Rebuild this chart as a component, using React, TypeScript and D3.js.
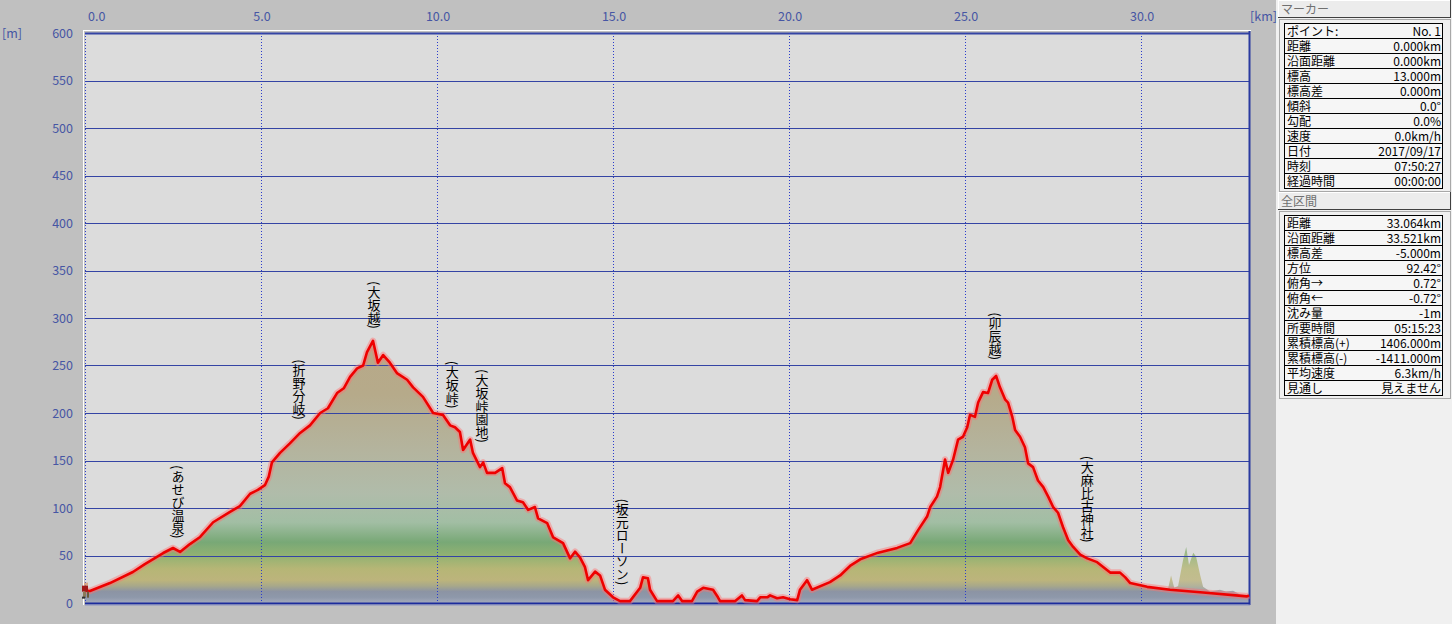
import { useMemo } from "react";
import * as d3 from "d3";

const W = 1452;
const H = 624;
const PLOT = { left: 85, right: 1249, top: 33, bottom: 603 };
const FONT = "'Noto Sans CJK JP', 'Noto Sans', sans-serif";
const AXIS_BLUE = "#4656a4";
const GRID_BLUE = "#3444a4";
const VGRID_BLUE = "#2a3ccc";

// track profile: distance [km], elevation [m]
const TRACK_KM = [
  0, 0.14, 0.71, 1.36, 1.7, 2.22, 2.5, 2.7, 2.98, 3.27, 3.64, 4.12, 4.4, 4.69, 4.91, 5.11, 5.22,
  5.31, 5.54, 5.82, 6.11, 6.39, 6.68, 6.9, 7.16, 7.35, 7.53, 7.73, 7.9, 8.01, 8.18, 8.32, 8.47,
  8.66, 8.86, 9.15, 9.32, 9.6, 9.89, 10.17, 10.37, 10.51, 10.65, 10.74, 10.94, 11.02, 11.22,
  11.31, 11.42, 11.65, 11.85, 11.93, 12.07, 12.27, 12.44, 12.59, 12.78, 12.87, 13.13, 13.3,
  13.58, 13.78, 13.92, 14.06, 14.2, 14.29, 14.49, 14.63, 14.77, 15.0, 15.2, 15.48, 15.77, 15.85,
  15.99, 16.05, 16.25, 16.7, 16.85, 16.96, 17.24, 17.39, 17.56, 17.84, 17.98, 18.04, 18.47,
  18.66, 18.75, 19.09, 19.18, 19.38, 19.46, 19.66, 19.83, 20.03, 20.23, 20.31, 20.51, 20.65,
  21.16, 21.45, 21.73, 22.02, 22.53, 23.07, 23.44, 23.67, 23.92, 24.01, 24.2, 24.29, 24.43,
  24.52, 24.66, 24.8, 24.94, 25.06, 25.14, 25.28, 25.37, 25.51, 25.65, 25.77, 25.88, 25.99,
  26.14, 26.22, 26.34, 26.42, 26.56, 26.7, 26.79, 26.93, 27.07, 27.22, 27.36, 27.5, 27.64,
  27.78, 27.93, 28.07, 28.27, 28.47, 28.75, 29.12, 29.4, 29.55, 29.69, 30.17, 30.82, 31.76,
  33.01, 33.064,
];
const TRACK_M = [
  13, 12.6, 21, 32.6, 41, 52.6, 57.9, 53.7, 62, 69.5, 85, 96, 102, 115, 119, 124, 133, 148, 158,
  168, 179, 187, 200, 205, 221, 226, 238, 247, 250, 264, 276, 253, 261, 253, 242, 235, 227, 217,
  200, 198, 187, 185, 180, 161, 172, 158, 143, 148, 137, 137, 142, 126, 122, 108, 106, 98, 101,
  89, 84, 69, 63, 47, 54, 48, 38, 24, 33, 29, 14, 6, 2, 2, 16, 27, 26, 14, 2, 2, 8, 2, 2, 12,
  16, 14, 6, 2, 2, 8, 3, 2, 6, 6, 8, 5, 6, 4, 3, 14, 24, 14, 22, 29, 39, 46, 53, 58, 63, 77, 91,
  101, 112, 122, 151, 137, 151, 172, 175, 185, 198, 196, 211, 222, 221, 235, 239, 227, 214, 211,
  196, 182, 175, 164, 147, 143, 129, 122, 112, 101, 95, 80, 66, 59, 51, 47, 43, 32, 32, 27, 21,
  17, 14, 11, 7, 8,
];

// faint second profile near the end of the route
const GHOST_KM = [
  30.54, 30.77, 30.85, 30.94, 31.05, 31.19, 31.28, 31.36, 31.48, 31.56, 31.68, 31.76, 31.96,
  32.24, 32.41, 32.61, 32.81, 33.06,
];
const GHOST_M = [14, 16, 29, 16, 18, 45, 59, 40, 53, 49, 29, 17, 12, 14, 12, 13, 9, 8];

// waypoint names with distance and label elevation
const WAYPOINT_NAMES = [
  "(あせび温泉)", "(折野分岐)", "(大坂越)", "(大坂峠)", "(大坂峠園地)", "(坂元ローソン)", "(卯辰越)", "(大麻比古神社)",
];
const WAYPOINT_KM = [2.64, 6.08, 8.21, 10.43, 11.28, 15.26, 25.85, 28.47];
const WAYPOINT_M = [55, 180, 276, 192, 156, 6, 243, 51];

const X_TICKS = [0, 5, 10, 15, 20, 25, 30];
const Y_TICKS = [0, 50, 100, 150, 200, 250, 300, 350, 400, 450, 500, 550, 600];

const MARKER_LABELS = ["ポイント:", "距離", "沿面距離", "標高", "標高差", "傾斜", "勾配", "速度", "日付", "時刻", "経過時間"];
const MARKER_VALUES = ["No. 1", "0.000km", "0.000km", "13.000m", "0.000m", "0.0°", "0.0%", "0.0km/h", "2017/09/17", "07:50:27", "00:00:00"];
const TOTAL_LABELS = ["距離", "沿面距離", "標高差", "方位", "俯角→", "俯角←", "沈み量", "所要時間", "累積標高(+)", "累積標高(-)", "平均速度", "見通し"];
const TOTAL_VALUES = ["33.064km", "33.521km", "-5.000m", "92.42°", "0.72°", "-0.72°", "-1m", "05:15:23", "1406.000m", "-1411.000m", "6.3km/h", "見えません"];

// elevation colour ramp (m -> colour)
const RAMP_M = [0, 6, 12, 18, 24, 36, 50, 64, 85, 115, 160, 220, 300];
const RAMP_C = [
  "#a4aabb", "#8e98aa", "#8c94a4", "#a8a88a", "#bcb47c", "#b6b676", "#92b272", "#78a876",
  "#a2bea4", "#b0bcaa", "#b4b49e", "#b6aa8a", "#b8a888",
];

const Panel = ({ top, title, labels, values }: { top: number; title: string; labels: string[]; values: string[] }) => {
  const rowH = 15;
  const tableTop = top + 23;
  return (
    <g>
      <rect x={1278} y={top} width={173} height={18} fill="#ececec" />
      <line x1={1278} x2={1451} y1={top + 0.5} y2={top + 0.5} stroke="#ffffff" />
      <line x1={1278.5} x2={1278.5} y1={top} y2={top + 18} stroke="#ffffff" />
      <line x1={1278} x2={1451} y1={top + 17.5} y2={top + 17.5} stroke="#404040" />
      <line x1={1450.5} x2={1450.5} y1={top} y2={top + 18} stroke="#404040" />
      <text x={1281} y={top + 14} fontFamily={FONT} fontSize={12} fill="#707070">
        {title}
      </text>
      <rect x={1279.5} y={top + 19.5} width={171} height={labels.length * rowH + 7} fill="none" stroke="#a8a8a8" />
      <rect x={1284.5} y={tableTop + 0.5} width={158} height={labels.length * rowH} fill="#f6f6f6" stroke="#000" />
      {labels.map((l, i) => (
        <g key={l + i}>
          {i > 0 && (
            <line x1={1284} x2={1443} y1={tableTop + i * rowH + 0.5} y2={tableTop + i * rowH + 0.5} stroke="#000" />
          )}
          <text x={1287} y={tableTop + i * rowH + 12.5} fontFamily={FONT} fontSize={12} fill="#000">
            {l}
          </text>
          <text x={1441} y={tableTop + i * rowH + 12.5} fontFamily={FONT} fontSize={12} fill="#000" textAnchor="end">
            {values[i]}
          </text>
        </g>
      ))}
    </g>
  );
};

export default function App() {
  const xScale = useMemo(
    () => d3.scaleLinear().domain([0, 33.064]).range([PLOT.left, PLOT.right]),
    []
  );
  const yScale = useMemo(
    () => d3.scaleLinear().domain([0, 600]).range([PLOT.bottom, PLOT.top]),
    []
  );

  const track = TRACK_KM.map((k, i) => [k, TRACK_M[i]] as [number, number]);
  const ghost = GHOST_KM.map((k, i) => [k, GHOST_M[i]] as [number, number]);

  const area = d3
    .area<[number, number]>()
    .x((d) => xScale(d[0]))
    .y0(yScale(0))
    .y1((d) => yScale(d[1]));
  const line = d3
    .line<[number, number]>()
    .x((d) => xScale(d[0]))
    .y((d) => yScale(d[1]));

  const rampTop = RAMP_M[RAMP_M.length - 1];

  return (
    <svg
      width={W}
      height={H}
      style={{ position: "fixed", left: 0, top: 0, display: "block" }}
    >
      <defs>
        <linearGradient
          id="elev"
          gradientUnits="userSpaceOnUse"
          x1={0}
          x2={0}
          y1={yScale(0)}
          y2={yScale(rampTop)}
        >
          {RAMP_M.map((m, i) => (
            <stop key={m} offset={m / rampTop} stopColor={RAMP_C[i]} />
          ))}
        </linearGradient>
        <clipPath id="plotClip">
          <rect x={PLOT.left} y={PLOT.top} width={PLOT.right - PLOT.left} height={PLOT.bottom - PLOT.top} />
        </clipPath>
      </defs>

      <rect width={W} height={H} fill="#c0c0c0" />
      <rect x={1276} y={0} width={W - 1276} height={H} fill="#f0f0f0" />

      {/* plot frame */}
      <rect
        x={PLOT.left}
        y={PLOT.top}
        width={PLOT.right - PLOT.left}
        height={PLOT.bottom - PLOT.top}
        fill="#dcdcdc"
      />
      <line x1={83.5} x2={83.5} y1={30} y2={605} stroke="#ffffff" />
      <line x1={83} x2={1251} y1={30.5} y2={30.5} stroke="#ffffff" />

      <g clipPath="url(#plotClip)">
        <path d={area(ghost) ?? ""} fill="url(#elev)" opacity={0.8} />
        <path d={area(track) ?? ""} fill="url(#elev)" />
      </g>

      {/* horizontal grid */}
      {Y_TICKS.filter((t) => t > 0).map((t) => (
        <line
          key={t}
          x1={PLOT.left}
          x2={PLOT.right}
          y1={Math.round(yScale(t)) + 0.5}
          y2={Math.round(yScale(t)) + 0.5}
          stroke={GRID_BLUE}
          strokeWidth={t === 600 ? 2 : 1}
        />
      ))}
      {/* vertical grid */}
      {X_TICKS.map((t) => (
        <line
          key={t}
          x1={Math.round(xScale(t)) + 0.5}
          x2={Math.round(xScale(t)) + 0.5}
          y1={PLOT.top}
          y2={PLOT.bottom}
          stroke={VGRID_BLUE}
          strokeDasharray="1,2"
        />
      ))}
      <line x1={PLOT.right + 0.5} x2={PLOT.right + 0.5} y1={31} y2={605} stroke="#2a3aa0" strokeWidth={2} />
      <line x1={PLOT.left} x2={PLOT.right + 1} y1={PLOT.bottom + 0.5} y2={PLOT.bottom + 0.5} stroke="#1c2c9c" strokeWidth={2} />
      <line x1={PLOT.left} x2={PLOT.right + 1} y1={PLOT.bottom + 2} y2={PLOT.bottom + 2} stroke="#8890c0" strokeWidth={1} />

      {/* elevation line */}
      <path d={line(track) ?? ""} fill="none" stroke="#ff7070" strokeOpacity={0.45} strokeWidth={6.5} strokeLinejoin="round" />
      <path d={line(track) ?? ""} fill="none" stroke="#ee0000" strokeWidth={2.6} strokeLinejoin="round" />

      {/* hiker marker */}
      <g transform={`translate(${xScale(0)}, ${yScale(TRACK_M[0])})`}>
        <rect x={-1} y={-8} width={4} height={3} fill="#d8a888" />
        <rect x={-3} y={-5} width={6} height={6} fill="#a01818" />
        <rect x={-2} y={1} width={3} height={6} fill="#8a7a5a" />
        <rect x={2} y={1} width={2} height={6} fill="#6a5a3a" />
        <rect x={-3} y={6} width={3} height={2} fill="#303030" />
      </g>

      {/* waypoint labels */}
      {WAYPOINT_NAMES.map((name, i) => (
        <text
          key={name}
          x={xScale(WAYPOINT_KM[i])}
          y={yScale(WAYPOINT_M[i]) - 12}
          fontFamily={FONT}
          fontSize={13}
          fill="#000"
          textAnchor="end"
          style={{ writingMode: "vertical-rl" }}
        >
          {name}
        </text>
      ))}

      {/* axes labels */}
      {X_TICKS.map((t) => (
        <text
          key={t}
          x={t === 0 ? xScale(t) + 3 : xScale(t) + 1}
          y={21}
          fontFamily={FONT}
          fontSize={12.5}
          fill={AXIS_BLUE}
          textAnchor={t === 0 ? "start" : "middle"}
        >
          {d3.format(".1f")(t)}
        </text>
      ))}
      <text x={1250} y={21} fontFamily={FONT} fontSize={12.5} fill={AXIS_BLUE}>
        [km]
      </text>
      {Y_TICKS.map((t) => (
        <text
          key={t}
          x={73}
          y={yScale(t) + 4.5}
          fontFamily={FONT}
          fontSize={12.5}
          fill={AXIS_BLUE}
          textAnchor="end"
        >
          {t}
        </text>
      ))}
      <text x={2} y={38} fontFamily={FONT} fontSize={12.5} fill={AXIS_BLUE}>
        [m]
      </text>

      <Panel top={0} title="マーカー" labels={MARKER_LABELS} values={MARKER_VALUES} />
      <Panel top={192} title="全区間" labels={TOTAL_LABELS} values={TOTAL_VALUES} />
    </svg>
  );
}
